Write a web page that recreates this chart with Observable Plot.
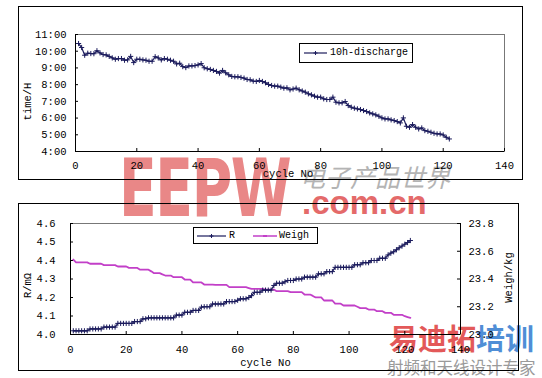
<!DOCTYPE html>
<html>
<head>
<meta charset="utf-8">
<script src="https://cdn.jsdelivr.net/npm/d3@7"></script>
<script src="https://cdn.jsdelivr.net/npm/@observablehq/plot@0.6"></script>
<style>
html, body { margin:0; padding:0; background:#fff; }
body { width:542px; height:378px; position:relative; overflow:hidden; font-family:"Liberation Mono","DejaVu Sans Mono",monospace; color:#000; }
.abs { position:absolute; }
.frame { position:absolute; border:1px solid #000; box-sizing:border-box; }
.legend { position:absolute; border:1px solid #000; background:#fff; box-sizing:border-box; font-size:10px; white-space:nowrap; }
.legend span, .legend svg { position:absolute; }
.wm { position:absolute; white-space:nowrap; pointer-events:none; line-height:1; }
</style>
</head>
<body>
<!-- watermark text -->
<div class="wm" style="left:119px;top:149px;font-family:'DejaVu Sans',sans-serif;font-weight:900;font-size:80px;color:#e46a6a;opacity:0.8;transform:scaleX(0.69);transform-origin:left top;letter-spacing:-2px;">EEPW</div>
<div class="wm" style="left:300px;top:164px;font-family:'Noto Sans CJK SC',sans-serif;font-size:25px;color:#b4b4b4;font-style:italic;letter-spacing:0px;">电子产品世界</div>
<div class="wm" style="left:302px;top:186px;font-family:'Liberation Sans',sans-serif;font-weight:bold;font-size:33px;color:#e25a5a;opacity:0.9;">.com.cn</div>
<div class="wm" style="left:389px;top:323px;font-family:'Noto Sans CJK SC',sans-serif;font-weight:bold;font-size:29px;color:#e04848;opacity:0.9;">易迪拓<span style="color:#3d82d2">培训</span></div>
<div class="wm" style="left:387px;top:359px;font-family:'Noto Sans CJK SC',sans-serif;font-size:16.5px;color:#9a9a9a;">射频和天线设计专家</div>

<div class="frame" style="left:18px;top:6px;width:505px;height:174px"></div>
<div class="frame" style="left:18px;top:203px;width:501px;height:168px"></div>
<div id="chart1" class="abs" style="left:0;top:0"></div>
<div id="chart2" class="abs" style="left:0;top:195px"></div>

<div class="legend" style="left:299px;top:43px;width:114px;height:20px">
  <svg style="left:4px;top:4px" width="24" height="10"><path d="M0,5H23" stroke="#1b1b5c" stroke-width="1.2"/><path d="M9.5,5h4M11.5,3v4" stroke="#1b1b5c"/></svg>
  <span style="left:30px;top:3px">10h-discharge</span>
</div>
<div class="legend" style="left:193px;top:227px;width:125px;height:17px">
  <svg style="left:3px;top:3px" width="30" height="10"><path d="M0,5H29" stroke="#1b1b5c" stroke-width="1.2"/><path d="M12.5,5h4M14.5,3v4" stroke="#1b1b5c"/></svg>
  <span style="left:35px;top:2px">R</span>
  <svg style="left:59px;top:3px" width="25" height="10"><path d="M0,5H24" stroke="#c23fc8" stroke-width="1.5"/><path d="M10,5h4" stroke="#c23fc8" stroke-width="2"/></svg>
  <span style="left:85px;top:2px">Weigh</span>
</div>

<script>
// ---------- data ----------
const xTicks = [0, 20, 40, 60, 80, 100, 120, 140];
const timeTicks = [4, 5, 6, 7, 8, 9, 10, 11];
const rTicks = [4.0, 4.1, 4.2, 4.3, 4.4, 4.5, 4.6];
const weighTicks = [23.0, 23.2, 23.4, 23.6, 23.8];

// 10h-discharge time (hours) for cycles 1..122
const dischargeHours = [
  10.46,10.22,9.76,9.88,9.86,9.85,10.03,9.90,9.80,9.78,
  9.69,9.60,9.52,9.56,9.56,9.46,9.48,9.69,9.32,9.52,
  9.52,9.48,9.46,9.40,9.40,9.67,9.60,9.48,9.56,9.52,
  9.46,9.40,9.24,9.28,9.08,9.02,9.12,9.12,9.14,9.18,
  9.26,9.01,8.95,8.91,8.85,8.79,8.69,8.85,8.71,8.59,
  8.49,8.47,8.47,8.43,8.39,8.31,8.29,8.21,8.19,8.25,
  8.19,8.11,8.01,7.95,7.91,7.91,7.85,7.79,7.81,7.69,
  7.74,7.79,7.69,7.62,7.55,7.45,7.39,7.31,7.25,7.25,
  7.15,7.11,7.11,7.25,6.95,6.91,6.91,6.99,6.75,6.65,
  6.59,6.55,6.51,6.45,6.39,6.31,6.25,6.19,6.11,6.01,
  5.95,5.95,5.89,5.85,5.79,5.71,6.01,5.51,5.45,5.61,
  5.45,5.35,5.41,5.25,5.21,5.15,5.09,5.05,5.05,4.99,
  4.85,4.75
];

// internal resistance R (mΩ) for cycles 1..122
const resistance = [
  4.02,4.02,4.02,4.02,4.02,4.02,4.03,4.03,4.03,4.03,
  4.03,4.04,4.04,4.04,4.04,4.04,4.06,4.06,4.06,4.06,
  4.06,4.06,4.07,4.07,4.07,4.085,4.085,4.09,4.09,4.09,
  4.09,4.09,4.09,4.09,4.09,4.09,4.09,4.105,4.105,4.105,
  4.12,4.12,4.12,4.13,4.13,4.13,4.148,4.15,4.15,4.15,
  4.165,4.165,4.165,4.165,4.165,4.178,4.178,4.178,4.178,4.185,
  4.193,4.193,4.193,4.20,4.21,4.228,4.228,4.228,4.24,4.24,
  4.24,4.24,4.265,4.277,4.277,4.277,4.285,4.292,4.292,4.292,
  4.30,4.30,4.30,4.31,4.31,4.31,4.31,4.31,4.328,4.328,
  4.328,4.34,4.34,4.34,4.363,4.363,4.363,4.363,4.363,4.363,
  4.363,4.377,4.377,4.377,4.388,4.388,4.388,4.40,4.40,4.40,
  4.412,4.412,4.412,4.43,4.44,4.447,4.458,4.469,4.478,4.488,
  4.497,4.508
];

// weight (kg) for cycles 1..122
const weight = [
  23.54,23.52,23.52,23.52,23.52,23.52,23.51,23.51,23.51,23.51,
  23.51,23.50,23.50,23.50,23.50,23.50,23.49,23.49,23.49,23.49,
  23.48,23.48,23.48,23.48,23.467,23.467,23.467,23.467,23.455,23.442,
  23.442,23.442,23.433,23.425,23.425,23.425,23.413,23.413,23.413,23.413,
  23.396,23.396,23.396,23.375,23.375,23.375,23.375,23.36,23.36,23.36,
  23.36,23.358,23.358,23.358,23.358,23.358,23.341,23.341,23.341,23.341,
  23.341,23.341,23.341,23.335,23.329,23.329,23.329,23.329,23.329,23.324,
  23.324,23.324,23.324,23.312,23.312,23.312,23.312,23.312,23.305,23.305,
  23.305,23.305,23.305,23.288,23.288,23.288,23.278,23.267,23.267,23.267,
  23.245,23.245,23.245,23.245,23.222,23.222,23.222,23.209,23.209,23.209,
  23.209,23.209,23.20,23.19,23.19,23.19,23.18,23.18,23.18,23.168,
  23.168,23.168,23.156,23.156,23.156,23.142,23.142,23.142,23.142,23.132,
  23.126,23.12
];

// ---------- styling ----------
const navy = "#1b1b5c";
const magenta = "#c23fc8";
const W = 542;
const fontStyle = {fontFamily: "'Liberation Mono','DejaVu Sans Mono',monospace", fontSize: "10.5px", color: "#000", background: "transparent", overflow: "visible"};

// ---------- chart 1 ----------
const m1 = {top: 34, right: 38, bottom: 34, left: 75}, h1 = 185;
const in1H = h1 - m1.top - m1.bottom, in1W = W - m1.left - m1.right;
const d1 = dischargeHours.map((h, i) => ({cycle: i + 1, h}));

const chart1 = Plot.plot({
  width: W, height: h1,
  marginTop: m1.top, marginRight: m1.right, marginBottom: m1.bottom, marginLeft: m1.left,
  style: fontStyle,
  x: {domain: [0, 140]},
  y: {domain: [4, 11]},
  marks: [
    Plot.frame({stroke: "#777"}),
    Plot.ruleX([0], {stroke: "#000"}),
    Plot.ruleY([4], {stroke: "#000"}),
    Plot.tickX(xTicks, {x: d => d, insetTop: in1H - 3, stroke: "#000"}),
    Plot.tickY(timeTicks, {y: d => d, insetRight: in1W - 3, stroke: "#000"}),
    Plot.axisX(xTicks, {tickSize: 0, tickPadding: 10, label: null, fontSize: 10.5}),
    Plot.axisY(timeTicks, {tickSize: 0, tickPadding: 9, label: null, fontSize: 10.5, tickFormat: d => `${d}:00`}),
    Plot.line(d1, {x: "cycle", y: "h", stroke: navy, strokeWidth: 1.2}),
    Plot.dot(d1, {x: "cycle", y: "h", symbol: "plus", r: 1.8, stroke: navy, strokeWidth: 1}),
    Plot.text(["cycle No"], {text: d => d, frameAnchor: "bottom", textAnchor: "middle", dx: -2, dy: 25, fontSize: 10.5}),
    Plot.text(["time/H"], {text: d => d, frameAnchor: "left", textAnchor: "middle", lineAnchor: "middle", dx: -48, dy: 8.5, rotate: -90, fontSize: 10.5})
  ]
});
document.getElementById("chart1").append(chart1);

// ---------- chart 2 ----------
const m2 = {top: 28, right: 82, bottom: 44, left: 70}, h2 = 183;
const in2H = h2 - m2.top - m2.bottom, in2W = W - m2.left - m2.right;
const rMin = 4.0, rMax = 4.6, wMin = 23.0, wMax = 23.8;
const toLeft = w => rMin + (w - wMin) * (rMax - rMin) / (wMax - wMin);
const fromLeft = r => wMin + (r - rMin) * (wMax - wMin) / (rMax - rMin);
const dR = resistance.map((v, i) => ({cycle: i + 1, v}));
const dW = weight.map((v, i) => ({cycle: i + 1, v: toLeft(v)}));
const rightTicks = weighTicks.map(toLeft);

const chart2 = Plot.plot({
  width: W, height: h2,
  marginTop: m2.top, marginRight: m2.right, marginBottom: m2.bottom, marginLeft: m2.left,
  style: fontStyle,
  x: {domain: [0, 140]},
  y: {domain: [rMin, rMax]},
  marks: [
    Plot.frame({stroke: "#777"}),
    Plot.ruleX([0, 140], {stroke: "#000"}),
    Plot.ruleY([rMin], {stroke: "#000"}),
    Plot.tickX(xTicks, {x: d => d, insetTop: in2H - 3, stroke: "#000"}),
    Plot.tickY(rTicks, {y: d => d, insetRight: in2W - 3, stroke: "#000"}),
    Plot.tickY(rightTicks, {y: d => d, insetLeft: in2W - 3, stroke: "#000"}),
    Plot.axisX(xTicks, {tickSize: 0, tickPadding: 11, label: null, fontSize: 10.5}),
    Plot.axisY(rTicks, {tickSize: 0, tickPadding: 15, label: null, fontSize: 10.5, tickFormat: d3.format(".1f")}),
    Plot.axisY(rightTicks, {anchor: "right", tickSize: 0, tickPadding: 8, label: null, fontSize: 10.5, tickFormat: d => fromLeft(d).toFixed(1)}),
    Plot.line(dW, {x: "cycle", y: "v", stroke: magenta, strokeWidth: 1.8}),
    Plot.line(dR, {x: "cycle", y: "v", stroke: navy, strokeWidth: 1.2}),
    Plot.dot(dR, {x: "cycle", y: "v", symbol: "plus", r: 1.8, stroke: navy, strokeWidth: 1}),
    Plot.text(["cycle No"], {text: d => d, frameAnchor: "bottom", textAnchor: "middle", dx: 0, dy: 31, fontSize: 10.5}),
    Plot.text(["R/mΩ"], {text: d => d, frameAnchor: "left", textAnchor: "middle", lineAnchor: "middle", dx: -43, dy: 6.5, rotate: -90, fontSize: 10.5}),
    Plot.text(["Weigh/kg"], {text: d => d, frameAnchor: "right", textAnchor: "middle", lineAnchor: "middle", dx: 48, dy: -1.5, rotate: -90, fontSize: 10.5})
  ]
});
document.getElementById("chart2").append(chart2);
</script>
</body>
</html>
